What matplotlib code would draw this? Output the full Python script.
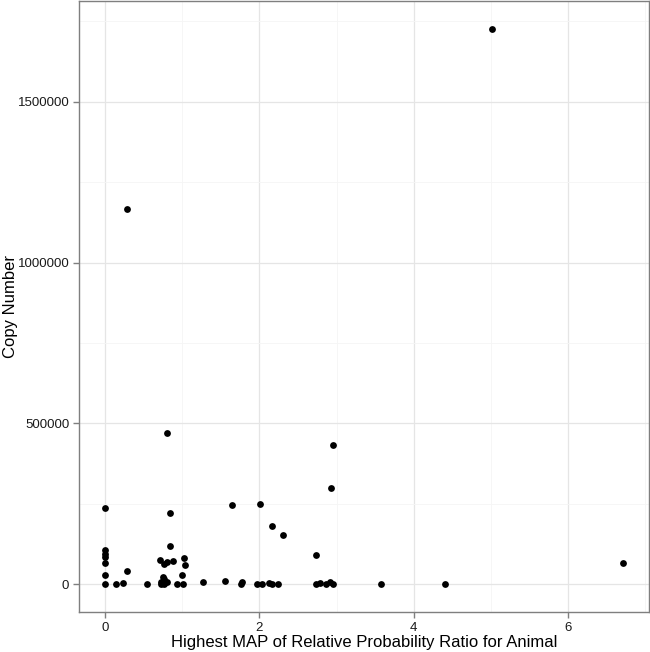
"""Scatter of copy number against highest MAP relative probability ratio (ggplot theme_bw look)."""
import matplotlib
matplotlib.use("Agg")
import matplotlib.pyplot as plt
from matplotlib.ticker import MultipleLocator

plt.rcParams["font.family"] = ["Liberation Sans", "DejaVu Sans"]

ratio = [
    5.01, 0.285, 0.80, 2.95, 2.93, 0.0, 1.65, 2.01, 2.16, 2.31, 0.84, 0.84, 2.73, 6.71, 4.41, 3.58,
    0.0, 0.0, 0.0, 0.0, 0.0, 0.0,
    0.15, 0.24, 0.28, 0.54,
    0.71, 0.77, 0.81, 0.88, 1.02, 1.04, 1.00, 1.01, 0.93,
    0.746, 0.767, 0.72, 0.76, 0.80, 0.72,
    1.27, 1.56, 1.77, 1.76,
    1.97, 2.03, 2.12, 2.16, 2.24,
    2.73, 2.78, 2.86, 2.91, 2.95,
]
copies = [
    1727000, 1167000, 471000, 433000, 299000, 237000, 245000, 249000, 182000, 152000, 221000, 120000,
    91000, 66000, 0, 1000,
    105000, 95000, 86000, 65000, 28000, 0,
    0, 5000, 42000, 0,
    74000, 62000, 69000, 71000, 82000, 59000, 30000, 0, 0,
    23000, 15000, 7000, 2000, 6000, 0,
    7000, 11000, 8000, 0,
    0, 0, 4000, 0, 2000,
    2000, 4000, 0, 7000, 0,
]

fig = plt.figure(figsize=(6.5, 6.52), dpi=100)
ax = fig.add_axes([79 / 650, 40 / 652, 570 / 650, 611 / 652])

ax.scatter(ratio, copies, s=24, color="black", linewidths=0, zorder=3)
ax.margins(0.05)

ax.xaxis.set_major_locator(MultipleLocator(2))
ax.xaxis.set_minor_locator(MultipleLocator(1))
ax.yaxis.set_major_locator(MultipleLocator(500000))
ax.yaxis.set_minor_locator(MultipleLocator(250000))
ax.yaxis.set_major_formatter(matplotlib.ticker.FuncFormatter(lambda v, p: f"{int(v)}"))

ax.grid(which="major", color="#e5e5e5", linewidth=0.9, zorder=0)
ax.grid(which="minor", color="#f5f5f5", linewidth=0.6, zorder=0)
ax.set_axisbelow(True)
for s in ax.spines.values():
    s.set_color("#7f7f7f")
    s.set_linewidth(1.0)

ax.tick_params(which="major", length=4, width=1, color="#7f7f7f", labelsize=9.5,
               labelcolor="#1a1a1a", pad=3)
ax.tick_params(which="minor", length=0)

ax.set_xlabel("Highest MAP of Relative Probability Ratio for Animal", fontsize=12, labelpad=1)
ax.set_ylabel("Copy Number", fontsize=12)
ax.yaxis.set_label_coords(-0.107, 0.5)

fig.savefig("out.png", dpi=100)
